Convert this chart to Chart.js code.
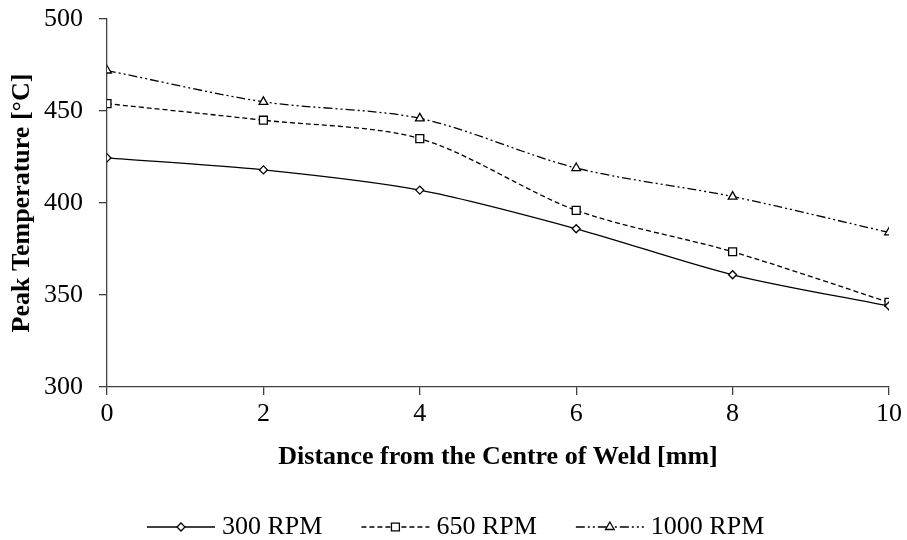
<!DOCTYPE html>
<html>
<head>
<meta charset="utf-8">
<script src="https://cdn.jsdelivr.net/npm/chart.js@4/dist/chart.umd.min.js"></script>
<style>
  html, body { margin: 0; padding: 0; background: #fff; }
  #wrap { width: 907px; height: 540px; position: relative; }
</style>
</head>
<body>
<div id="wrap"><canvas id="c" width="907" height="540"></canvas></div>
<script>
const distances = [0, 2, 4, 6, 8, 10];
const rpm300 = [424.5, 418, 407, 386, 361, 344];
const rpm650 = [454, 445, 435, 396, 373.5, 346];
const rpm1000 = [472, 455, 446, 419, 403.5, 384];
const seriesNames = ['300 RPM', '650 RPM', '1000 RPM'];
const xTitle = 'Distance from the Centre of Weld [mm]';
const yTitle = 'Peak Temperature [°C]';

const FONT = "'Liberation Serif', 'Times New Roman', serif";

function pts(vals) { return distances.map((d, i) => ({ x: d, y: vals[i] })); }

function ds(label, vals, dash, style, radius) {
  return {
    label, data: pts(vals),
    borderColor: '#000', backgroundColor: '#fff', borderWidth: 1.3,
    borderDash: dash, tension: 0.3,
    pointStyle: style, pointRadius: radius, pointBorderWidth: 1.3,
    pointBackgroundColor: '#fff', pointBorderColor: '#000'
  };
}

const legendPlugin = {
  id: 'customLegend',
  afterDraw(chart) {
    const ctx = chart.ctx;
    const y = 527;
    let x = 147;
    ctx.save();
    ctx.font = "26px " + FONT;
    chart.data.datasets.forEach((d) => {
      const len = 68;
      ctx.strokeStyle = '#000';
      ctx.lineWidth = 1.3;
      ctx.setLineDash(d.borderDash || []);
      ctx.beginPath();
      ctx.moveTo(x, y);
      ctx.lineTo(x + len, y);
      ctx.stroke();
      ctx.setLineDash([]);
      ctx.fillStyle = '#fff';
      ctx.strokeStyle = '#000';
      ctx.lineWidth = 1.3;
      Chart.helpers.drawPoint(ctx, { pointStyle: d.pointStyle, radius: d.pointRadius, rotation: 0, borderWidth: 1.3 }, x + len / 2, y);
      ctx.fillStyle = '#000';
      ctx.textAlign = 'left';
      ctx.textBaseline = 'middle';
      const tx = x + len + 7;
      ctx.fillText(d.label, tx, y);
      x = tx + ctx.measureText(d.label).width + 39;
    });
    ctx.restore();
  }
};

new Chart(document.getElementById('c'), {
  type: 'line',
  data: {
    datasets: [
      ds(seriesNames[0], rpm300, [], 'rectRot', 4),
      ds(seriesNames[1], rpm650, [5, 3], 'rect', 5.6),
      ds(seriesNames[2], rpm1000, [9, 3, 2, 3, 2, 3], 'triangle', 5)
    ]
  },
  options: {
    responsive: false,
    animation: false,
    layout: { padding: { top: 19, right: 18, bottom: 67, left: 0 } },
    plugins: { legend: { display: false }, tooltip: { enabled: false } },
    scales: {
      x: {
        type: 'linear', min: 0, max: 10,
        ticks: { stepSize: 2, color: '#000', font: { family: FONT, size: 26 }, padding: 4, maxRotation: 0 },
        grid: { drawOnChartArea: false, drawTicks: true, tickLength: 8, color: '#404040', lineWidth: 1.3 },
        border: { color: '#404040', width: 1.3 },
        title: { display: true, text: xTitle, color: '#000', font: { family: FONT, size: 26, weight: 'bold' }, padding: { top: 0, bottom: 0 } },
        afterFit(s) { s.height = 86; s.paddingLeft = 0; s.paddingRight = 0; }
      },
      y: {
        min: 300, max: 500,
        ticks: { stepSize: 50, color: '#000', font: { family: FONT, size: 26 }, padding: 16 },
        grid: { drawOnChartArea: false, drawTicks: true, tickLength: 8, color: '#404040', lineWidth: 1.3 },
        border: { color: '#404040', width: 1.3 },
        title: { display: true, text: yTitle, color: '#000', font: { family: FONT, size: 26, weight: 'bold' }, padding: { top: 7, bottom: 0 } },
        afterFit(s) { s.width = 107; s.paddingTop = 0; s.paddingBottom = 0; }
      }
    }
  },
  plugins: [legendPlugin]
});
</script>
</body>
</html>
